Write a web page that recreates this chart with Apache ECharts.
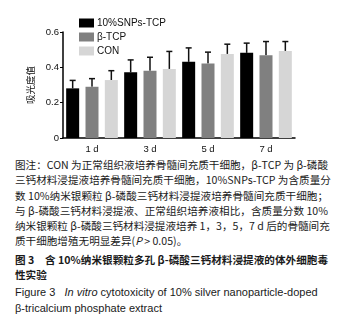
<!DOCTYPE html>
<html>
<head>
<meta charset="utf-8">
<script src="https://cdn.jsdelivr.net/npm/echarts@6/dist/echarts.min.js"></script>
<style>
  html, body { margin: 0; padding: 0; background: #fff; }
  #page { position: relative; width: 343px; height: 329px; overflow: hidden; }
  #chart { position: absolute; left: 0; top: 0; width: 343px; height: 157px; }
  #caption {
    position: absolute; left: 15px; top: 157px; width: 313px;
    font-family: "Noto Sans CJK SC", "Liberation Sans", sans-serif;
    font-size: 10.6px; line-height: 15.3px; color: #1a1a1a;
  }
  #caption .ln { white-space: nowrap; text-align: justify; text-align-last: justify; }
  #caption .last { text-align-last: left; }
  #caption .b { font-weight: bold; }
  #caption .gap { margin-top: 3px; }
  #caption .en { font-family: "Liberation Sans", Arial, sans-serif; font-size: 11px; }
</style>
</head>
<body>
<div id="page">
  <div id="chart"></div>
  <div id="caption">
    <div class="ln">图注：CON 为正常组织液培养骨髓间充质干细胞，β-TCP 为 β-磷酸</div>
    <div class="ln">三钙材料浸提液培养骨髓间充质干细胞，10%SNPs-TCP 为含质量分</div>
    <div class="ln">数 10%纳米银颗粒 β-磷酸三钙材料浸提液培养骨髓间充质干细胞；</div>
    <div class="ln">与 β-磷酸三钙材料浸提液、正常组织培养液相比，含质量分数 10%</div>
    <div class="ln">纳米银颗粒 β-磷酸三钙材料浸提液培养 1，3，5，7 d 后的骨髓间充</div>
    <div class="ln last">质干细胞增殖无明显差异(<i>P</i> &gt; 0.05)。</div>
    <div class="ln b gap">图 3　含 10%纳米银颗粒多孔 β-磷酸三钙材料浸提液的体外细胞毒</div>
    <div class="ln b last">性实验</div>
    <div class="ln en last gap">Figure 3 &nbsp;&nbsp;<i>In vitro</i> cytotoxicity of 10% silver nanoparticle-doped</div>
    <div class="ln en last">β-tricalcium phosphate extract</div>
  </div>
</div>
<script>
// 天数与三组数据（均值 + 上方误差）
const days = ['1 d', '3 d', '5 d', '7 d'];
const groupNames = ['10%SNPs-TCP', 'β-TCP', 'CON'];
const groupColors = ['#000000', '#808080', '#d6d6d6'];

const snpsMean = [0.281, 0.372, 0.431, 0.482];
const snpsErr  = [0.045, 0.070, 0.079, 0.055];
const tcpMean  = [0.290, 0.381, 0.421, 0.469];
const tcpErr   = [0.046, 0.076, 0.065, 0.077];
const conMean  = [0.328, 0.391, 0.476, 0.493];
const conErr   = [0.053, 0.099, 0.055, 0.053];

const yTicks = [0, 0.2, 0.4, 0.6];

(function () {
  const means = [snpsMean, tcpMean, conMean];
  const errs = [snpsErr, tcpErr, conErr];
  const font = '"Liberation Sans", Arial, sans-serif';

  // 每天三根柱子，各占一个类目位置
  const cats = [];
  days.forEach(d => groupNames.forEach(g => cats.push(d + '|' + g)));

  const barSeries = groupNames.map((name, gi) => {
    const data = cats.map(() => null);
    means[gi].forEach((v, di) => { data[di * 3 + gi] = v; });
    return {
      name: name,
      type: 'bar',
      data: data,
      barWidth: 13,
      barGap: '-100%',
      itemStyle: { color: groupColors[gi] },
      silent: true
    };
  });

  const errData = [];
  means.forEach((arr, gi) => {
    arr.forEach((v, di) => errData.push([di * 3 + gi, v, v + errs[gi][di]]));
  });

  const chart = echarts.init(document.getElementById('chart'), null, { renderer: 'canvas' });
  chart.setOption({
    animation: false,
    backgroundColor: '#fff',
    textStyle: { fontFamily: font },
    legend: {
      data: groupNames,
      orient: 'vertical',
      left: 74,
      top: 13,
      itemWidth: 15,
      itemHeight: 9,
      itemGap: 4,
      icon: 'rect',
      selectedMode: false,
      textStyle: { fontSize: 10, color: '#111', fontFamily: font, padding: [0, 0, 0, -2] }
    },
    grid: { left: 63, top: 32, width: 232, height: 106, outerBoundsMode: 'none' },
    xAxis: {
      type: 'category',
      data: cats,
      axisLine: { lineStyle: { color: '#000', width: 1.5 } },
      axisTick: { alignWithLabel: true, interval: 0, length: 3, lineStyle: { color: '#000', width: 1 } },
      axisLabel: {
        interval: 0, fontSize: 9.5, color: '#111', margin: 6,
        formatter: (v, i) => (i % 3 === 1 ? days[(i - 1) / 3] : '')
      }
    },
    yAxis: {
      type: 'value',
      min: yTicks[0],
      max: yTicks[yTicks.length - 1],
      interval: 0.2,
      name: '吸光度值',
      nameLocation: 'middle',
      nameRotate: 90,
      nameGap: 26,
      nameTextStyle: { fontSize: 9.5, color: '#111', fontFamily: '"Noto Sans CJK SC", sans-serif' },
      splitLine: { show: false },
      axisLine: { show: true, lineStyle: { color: '#000', width: 1.5 } },
      axisTick: { show: true, length: 3, lineStyle: { color: '#000' } },
      axisLabel: {
        fontSize: 9.5, color: '#111', margin: 4,
        formatter: v => (v === 0 ? '0' : v.toFixed(1))
      }
    },
    series: barSeries.concat([{
      type: 'custom',
      silent: true,
      z: 1,
      data: errData,
      encode: { x: 0, y: [1, 2] },
      renderItem: (params, api) => {
        const x = api.value(0);
        const base = api.coord([x, api.value(1)]);
        const top = api.coord([x, api.value(2)]);
        const half = 3;
        const style = { stroke: '#111', lineWidth: 1.5 };
        return {
          type: 'group',
          children: [
            { type: 'line', shape: { x1: base[0], y1: base[1], x2: top[0], y2: top[1] }, style: style },
            { type: 'line', shape: { x1: top[0] - half, y1: top[1], x2: top[0] + half, y2: top[1] }, style: style }
          ]
        };
      }
    }])
  });
})();
</script>
</body>
</html>
